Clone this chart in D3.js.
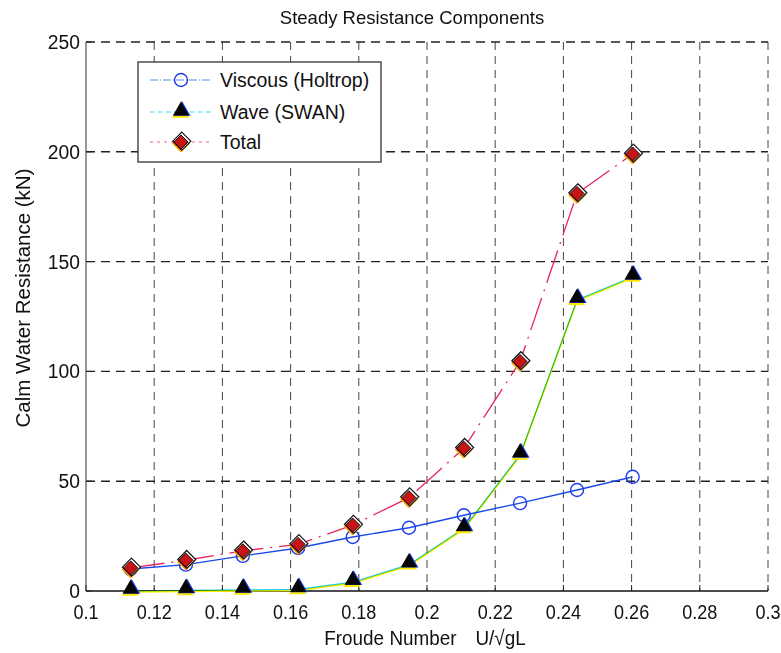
<!DOCTYPE html>
<html>
<head>
<script src="https://d3js.org/d3.v7.js"></script>
<style>
  body { margin: 0; background: #fff; }
  svg text { font-family: "Liberation Sans", Arial, sans-serif; fill: #111; }
  .tick-lab { font-size: 21px; }
</style>
</head>
<body>
<script>
// values
const froude  = [0.1131, 0.1293, 0.1460, 0.1622, 0.1782, 0.1947, 0.2108, 0.2273, 0.2440, 0.2603]
const viscous = [10, 12, 16, 19.6, 24.6, 28.8, 34.5, 40, 46, 52]
const wave    = [0, 0.3, 0.5, 0.7, 4, 12, 28.5, 62, 132.5, 143]
const total   = [10.5, 14, 18.3, 21.2, 30, 42.5, 65, 104.5, 181, 199]
const xTicks = [0.1, 0.12, 0.14, 0.16, 0.18, 0.2, 0.22, 0.24, 0.26, 0.28, 0.3]
const yTicks = [0, 50, 100, 150, 200, 250]
const seriesNames = ['Viscous (Holtrop)', 'Wave (SWAN)', 'Total']

const w = 781, h = 653
const pLeft = 86, pRight = 768, pTop = 42, pBottom = 591

const svg = d3.select('body').append('svg').attr('width', w).attr('height', h)

const x = d3.scaleLinear().domain([0.1, 0.3]).range([pLeft, pRight])
const y = d3.scaleLinear().domain([0, 250]).range([pBottom, pTop])

// grid
svg.append('g').selectAll('line').data(xTicks.slice(1)).enter().append('line')
  .attr('x1', d => x(d)).attr('x2', d => x(d)).attr('y1', pTop).attr('y2', pBottom)
  .attr('stroke', '#444').attr('stroke-width', 1).attr('stroke-dasharray', '8,6')
svg.append('g').selectAll('line').data(yTicks.slice(1)).enter().append('line')
  .attr('x1', pLeft).attr('x2', pRight).attr('y1', d => y(d)).attr('y2', d => y(d))
  .attr('stroke', '#222').attr('stroke-width', 1.4).attr('stroke-dasharray', '9,6')

// axes lines
svg.append('line').attr('x1', pLeft).attr('x2', pLeft).attr('y1', pTop).attr('y2', pBottom)
  .attr('stroke', '#555').attr('stroke-width', 1.2)
svg.append('line').attr('x1', pLeft).attr('x2', pRight).attr('y1', pBottom).attr('y2', pBottom)
  .attr('stroke', '#111').attr('stroke-width', 1.6)

// inward ticks on bottom and left
svg.append('g').selectAll('line').data(xTicks).enter().append('line')
  .attr('x1', d => x(d)).attr('x2', d => x(d)).attr('y1', pBottom).attr('y2', pBottom - 6)
  .attr('stroke', '#222')
svg.append('g').selectAll('line').data(yTicks).enter().append('line')
  .attr('x1', pLeft).attr('x2', pLeft + 6).attr('y1', d => y(d)).attr('y2', d => y(d))
  .attr('stroke', '#222')

// tick labels (narrow look)
svg.append('g').selectAll('text').data(xTicks).enter().append('text')
  .attr('class', 'tick-lab')
  .attr('transform', d => `translate(${x(d)},${pBottom + 28}) scale(0.86,1)`)
  .attr('text-anchor', 'middle')
  .text(d => String(+d.toFixed(2)))
svg.append('g').selectAll('text').data(yTicks).enter().append('text')
  .attr('class', 'tick-lab')
  .attr('transform', d => `translate(${pLeft - 6},${y(d) + 7}) scale(0.92,1)`)
  .attr('text-anchor', 'end')
  .text(d => d)

// titles
svg.append('text').attr('x', 412).attr('y', 24).attr('text-anchor', 'middle')
  .style('font-size', '18.5px').text('Steady Resistance Components')
svg.append('text').attr('transform', 'translate(425,645) scale(0.9,1)').attr('text-anchor', 'middle')
  .style('font-size', '21px')
  .text('Froude Number\u2003U/\u221AgL')
svg.append('text').attr('transform', 'translate(30,298) rotate(-90)')
  .attr('text-anchor', 'middle').style('font-size', '20.5px')
  .text('Calm Water Resistance  (kN)')

const pts = arr => arr.map((v, i) => [froude[i], v])
const line = d3.line().x(d => x(d[0])).y(d => y(d[1]))

// series lines
svg.append('path').datum(pts(total)).attr('d', line).attr('fill', 'none')
  .attr('stroke', '#e8245a').attr('stroke-width', 1.3).attr('stroke-dasharray', '34,7,2,7')
const waveG = svg.append('g')
waveG.append('path').datum(pts(wave)).attr('d', line).attr('fill', 'none')
  .attr('transform', 'translate(0,1)')
  .attr('stroke', '#ffee00').attr('stroke-width', 1.6)
waveG.append('path').datum(pts(wave)).attr('d', line).attr('fill', 'none')
  .attr('stroke', '#22ccee').attr('stroke-width', 1.2).style('mix-blend-mode', 'multiply')
svg.append('path').datum(pts(viscous)).attr('d', line).attr('fill', 'none')
  .attr('stroke', '#1a4be8').attr('stroke-width', 1.4)

// markers
function circleMark(g, cx, cy) {
  g.append('circle').attr('cx', cx).attr('cy', cy).attr('r', 6.5)
    .attr('fill', 'none').attr('stroke', '#1e3cf0').attr('stroke-width', 1.4)
}
function triMark(g, cx, cy) {
  const tri = (ox, oy, s) => `M${ox},${oy - s} L${ox + s * 0.95},${oy + s * 0.65} L${ox - s * 0.95},${oy + s * 0.65}Z`
  g.append('path').attr('d', tri(cx - 0.5, cy + 2, 9)).attr('fill', '#ffe600')
  g.append('path').attr('d', tri(cx + 1, cy, 9)).attr('fill', '#1a3cf0')
  g.append('path').attr('d', tri(cx, cy, 8.5)).attr('fill', '#050505')
}
function diaMark(g, cx, cy) {
  const dia = (ox, oy, s) => `M${ox},${oy - s} L${ox + s},${oy} L${ox},${oy + s} L${ox - s},${oy}Z`
  g.append('path').attr('d', dia(cx, cy + 1.5, 9)).attr('fill', '#ffa000')
  g.append('path').attr('d', dia(cx + 0.8, cy - 0.8, 9)).attr('fill', '#fff').attr('stroke', '#111').attr('stroke-width', 1.2)
  g.append('path').attr('d', dia(cx, cy, 7)).attr('fill', '#c81414').attr('stroke', '#200').attr('stroke-width', 1)
}

const mk = svg.append('g')
pts(viscous).forEach(d => circleMark(mk, x(d[0]), y(d[1])))
pts(wave).forEach(d => triMark(mk, x(d[0]), y(d[1]) - 3))
pts(total).forEach(d => diaMark(mk, x(d[0]), y(d[1])))

// legend
const lg = svg.append('g')
lg.append('rect').attr('x', 138).attr('y', 62).attr('width', 243).attr('height', 100)
  .attr('fill', '#fff').attr('stroke', '#333').attr('stroke-width', 1.3)
const rows = [80, 112, 142]
const lineStyles = [
  { c: '#4a8ef0', dash: '8,2,1,2' },
  { c: '#33ddee', dash: '5,3' },
  { c: '#f0608a', dash: '3,4' }
]
rows.forEach((ry, i) => {
  lg.append('line').attr('x1', 150).attr('x2', 212).attr('y1', ry).attr('y2', ry)
    .attr('stroke', lineStyles[i].c).attr('stroke-width', 1.1).attr('stroke-dasharray', lineStyles[i].dash)
  if (i === 0) circleMark(lg, 181, ry)
  if (i === 1) triMark(lg, 181, ry - 2)
  if (i === 2) diaMark(lg, 181, ry)
  lg.append('text').attr('x', 220).attr('y', ry + 7).style('font-size', '19.5px').text(seriesNames[i])
})
</script>
</body>
</html>
